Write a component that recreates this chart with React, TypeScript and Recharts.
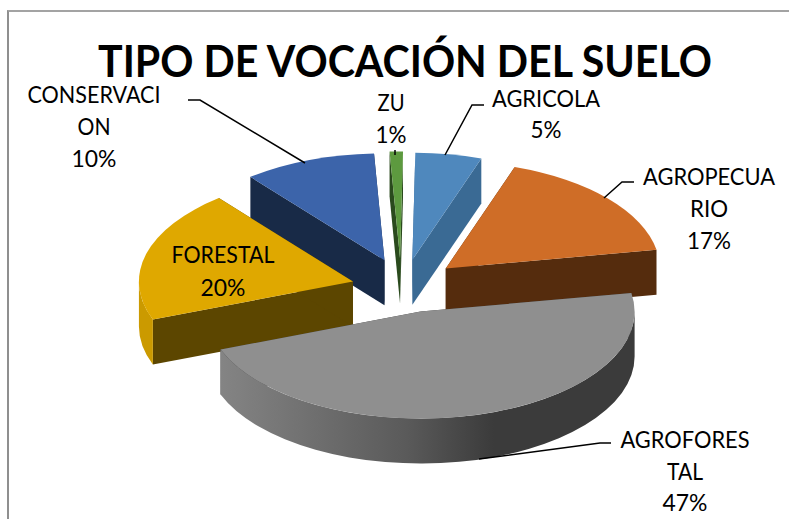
import { PieChart, Pie } from "recharts";

const categories = ["AGRICOLA", "AGROPECUARIO", "AGROFORESTAL", "FORESTAL", "CONSERVACION", "ZU"];
const shares = [5, 17, 47, 20, 10, 1];
// names wrap in the middle of a word in the original
const wrappedNames = [["AGRICOLA"], ["AGROPECUA", "RIO"], ["AGROFORES", "TAL"], ["FORESTAL"], ["CONSERVACI", "ON"], ["ZU"]];
const chartData = categories.map((name, i) => ({ name, value: shares[i] }));

const TOP_COLORS = ["#4f88bd", "#cf6d27", "#8f8f8f", "#dfa800", "#3c64aa", "#5d9a3f"];
const CUT_COLORS = ["#3a6a94", "#552c0d", "#3b3b3b", "#5c4600", "#182a47", "#2a4a1d"];
const RIM_COLORS = ["#3a6a94", "#7a3f13", "url(#grayRim)", "#cb9a00", "#2c4a80", "#44722e"];

// painter's order: back slices, then forestal, then the big gray one in front
const LAYERS = [[0, 1, 4, 5], [3], [2]];

const CX = 404;
const CY = 287;
const RX = 214;
const RY = 107;
const DEPTH = 45;
const EXPLODE = 55;
const TILT = 0.52;
const START = 89.2;
// small per-slice corrections on top of the explode distance
const NUDGE_X = [-1, 0, 2, 2, 0, -3];
const NUDGE_Y = [1, 0, -3, 2, 0, 0];

const LABELS: Record<string, { x: number; ys: number[]; widths: number[]; line?: string }> = {
  AGRICOLA: { x: 546, ys: [107, 138], widths: [108, 31], line: "484,105 472,105 445,155" },
  AGROPECUARIO: { x: 709, ys: [185, 217, 249], widths: [132, 38, 44], line: "634,182 622,182 604,198" },
  AGROFORESTAL: { x: 685, ys: [448, 480, 511], widths: [129, 36, 45], line: "611,443 600,443 479,459" },
  FORESTAL: { x: 223, ys: [263, 296], widths: [103, 45] },
  CONSERVACION: { x: 94, ys: [103, 135, 167], widths: [133, 33, 45], line: "188,100 200,100 305,163" },
  ZU: { x: 391, ys: [111, 143], widths: [27, 31], line: "395,150 395,155" },
};

function Slice3D(props: any, layer: number) {
  const { index, startAngle, endAngle } = props;
  if (!LAYERS[layer].includes(index)) return <g />;
  const t1 = 90 - startAngle;
  const t2 = 90 - endAngle;
  const mid = (((t1 + t2) / 2) * Math.PI) / 180;
  const ox = CX + EXPLODE * Math.sin(mid) + NUDGE_X[index];
  const oy = CY - EXPLODE * Math.cos(mid) * TILT + NUDGE_Y[index];
  const pt = (deg: number, dy = 0) => {
    const r = (deg * Math.PI) / 180;
    return `${ox + RX * Math.sin(r)} ${oy - RY * Math.cos(r) + dy}`;
  };
  const large = t2 - t1 > 180 ? 1 : 0;
  const cut = (deg: number) =>
    `M${ox} ${oy}L${pt(deg)}L${pt(deg, DEPTH)}L${ox} ${oy + DEPTH}Z`;
  const a = Math.max(t1, 90);
  const b = Math.min(t2, 270);
  return (
    <g>
      <path d={cut(t1)} fill={CUT_COLORS[index]} />
      <path d={cut(t2)} fill={CUT_COLORS[index]} />
      {a < b && (
        <path
          d={`M${pt(a)}A${RX} ${RY} 0 0 1 ${pt(b)}L${pt(b, DEPTH)}A${RX} ${RY} 0 0 0 ${pt(a, DEPTH)}Z`}
          fill={RIM_COLORS[index]}
        />
      )}
      <path d={`M${ox} ${oy}L${pt(t1)}A${RX} ${RY} 0 ${large} 1 ${pt(t2)}Z`} fill={TOP_COLORS[index]} />
    </g>
  );
}

function renderLabel(props: any) {
  const { name, value, index } = props;
  const spec = LABELS[name];
  const lines = [...wrappedNames[index], `${value}%`];
  return (
    <g key={name}>
      {spec.line && <polyline points={spec.line} fill="none" stroke="#000" strokeWidth={1.5} />}
      {lines.map((t, i) => (
        <text
          key={t}
          x={spec.x}
          y={spec.ys[i]}
          textAnchor="middle"
          fontFamily="Lato, sans-serif"
          fontSize={23}
          fill="#000"
          textLength={spec.widths[i]}
          lengthAdjust="spacingAndGlyphs"
        >
          {t}
        </text>
      ))}
    </g>
  );
}

export default function App() {
  return (
    <div style={{ position: "absolute", left: 0, top: 0, width: 789, height: 519, overflow: "hidden", background: "#fff" }}>
      <div style={{ position: "absolute", left: 7, top: 10, right: 0, bottom: 0, borderTop: "2px solid #a3a3a3", borderLeft: "2px solid #8f8f8f" }} />
      <PieChart width={789} height={519} style={{ position: "absolute", left: 0, top: 0 }}>
        <defs>
          <linearGradient id="grayRim" x1="0" y1="0" x2="1" y2="0">
            <stop offset="0" stopColor="#848484" />
            <stop offset="0.45" stopColor="#5a5a5a" />
            <stop offset="0.66" stopColor="#3b3b3b" />
            <stop offset="1" stopColor="#3b3b3b" />
          </linearGradient>
        </defs>
        {LAYERS.map((_, layer) => (
          <Pie
            key={layer}
            data={chartData}
            dataKey="value"
            nameKey="name"
            cx={CX}
            cy={CY}
            outerRadius={RX}
            startAngle={START}
            endAngle={START - 360}
            paddingAngle={0}
            stroke="none"
            isAnimationActive={false}
            shape={(p: any) => Slice3D(p, layer)}
            label={layer === 2 ? renderLabel : false}
            labelLine={false}
          />
        ))}
        <text
          x={405}
          y={77}
          textAnchor="middle"
          fontFamily="Lato, sans-serif"
          fontWeight={700}
          fontSize={43}
          fill="#000"
          textLength={614}
          lengthAdjust="spacingAndGlyphs"
        >
          TIPO DE VOCACIÓN DEL SUELO
        </text>
      </PieChart>
    </div>
  );
}
